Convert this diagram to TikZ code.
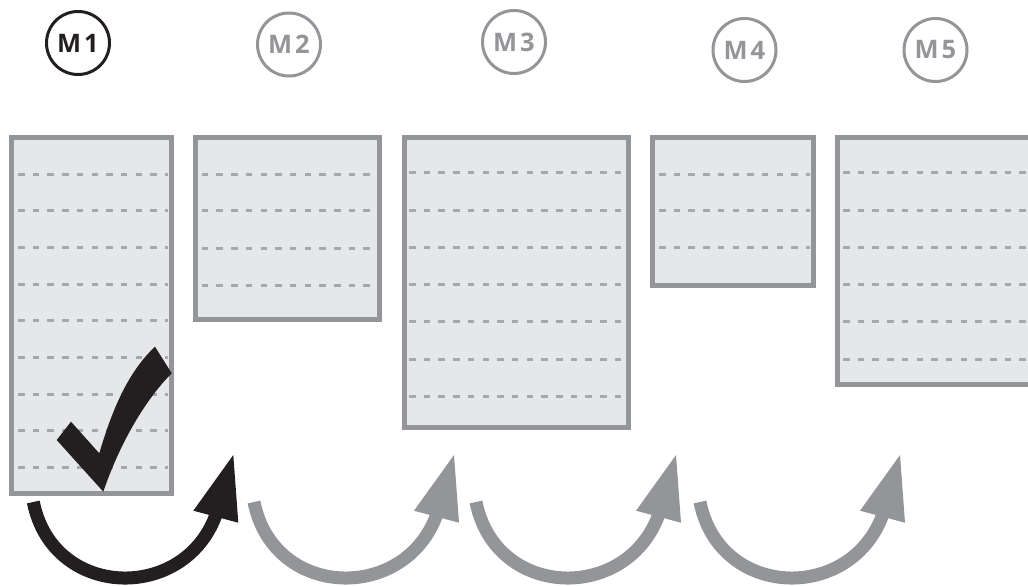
\documentclass[tikz,border=0pt]{standalone}
\usepackage{fontspec}
\setmainfont{Open Sans}
\usetikzlibrary{calc}
\definecolor{mdark}{RGB}{35,31,32}
\definecolor{mgray}{RGB}{147,149,152}
\definecolor{mfill}{RGB}{230,231,232}
\definecolor{mdash}{RGB}{166,168,171}
\begin{document}
\begin{tikzpicture}[x=1pt,y=-1pt,
  mcirc/.style={circle, draw=mgray, text=mgray, line width=3pt, minimum size=63pt, inner sep=0pt,
                font=\fontsize{25.5}{25.5}\selectfont\bfseries},
  mbox/.style={rectangle, draw=mgray, fill=mfill, line width=5pt, inner sep=0pt},
  rulerline/.style={draw=mdash, line width=3pt, dash pattern=on 6.5pt off 8.2pt},
  shaft/.style={line width=13pt, line cap=butt},
]
\useasboundingbox (0,0) rectangle (1028,586);

% month circles
\node[mcirc, draw=mdark, text=mdark] (m1) at (78,43) {M\kern3pt 1};
\node[mcirc] (m2) at (289,44.5) {M\kern3pt 2};
\node[mcirc] (m3) at (514,42) {M\kern3pt 3};
\node[mcirc] (m4) at (744.5,50) {M\kern3pt 4};
\node[mcirc] (m5) at (935.5,50) {M\kern3pt 5};

% boxes
\node[mbox, minimum width=160pt, minimum height=356pt] (b1) at (91.5,315.5) {};
\node[mbox, minimum width=183.4pt, minimum height=181.7pt] (b2) at (287.5,228.35) {};
\node[mbox, minimum width=224.5pt, minimum height=290pt] (b3) at (516.25,282.5) {};
\node[mbox, minimum width=160.7pt, minimum height=148.3pt] (b4) at (732.85,211.65) {};
\node[mbox, minimum width=202.5pt, minimum height=247pt] (b5) at (938.75,261) {};

% ruled lines
\foreach \y in {174,210.7,247.4,284.1,320.8,357.5,394.2,430.9,467.6}
  \draw[rulerline] (18,\y) -- (168,\y);
\foreach \y in {174,210.7,248,285.3}
  \draw[rulerline] (201.7,\y) -- (376,\y);
\foreach \y in {172.7,210,247.3,284.6,321.9,359.2,396.5}
  \draw[rulerline] (409,\y) -- (625,\y);
\foreach \y in {174,210,247}
  \draw[rulerline] (659,\y) -- (810,\y);
\foreach \y in {172.7,210,247.3,284.6,321.9,359.2}
  \draw[rulerline] (843,\y) -- (1030,\y);

% check mark
\fill[mdark] (56.7,440) -- (71,421.7) -- (99.3,453.3)
  .. controls (112,410) and (128,372) .. (155,346.7) -- (171.7,373.3)
  .. controls (147,398) and (121,440) .. (103.3,491.7) -- cycle;

% curved arrows
\foreach \T/\c [count=\i] in {233.3/mdark, 454/mgray, 676/mgray, 900/mgray}{
  \coordinate (t\i) at (\T-200,502);
  \coordinate (h\i) at (\T,455);
  \fill[\c] (h\i) -- (\T-40,510.7) -- (\T+5,522.7) -- cycle;
  \draw[shaft, draw=\c] (t\i) .. controls (\T-180,602) and (\T-41.8,603) .. (\T-14.8,507);
}
\end{tikzpicture}
\end{document}
